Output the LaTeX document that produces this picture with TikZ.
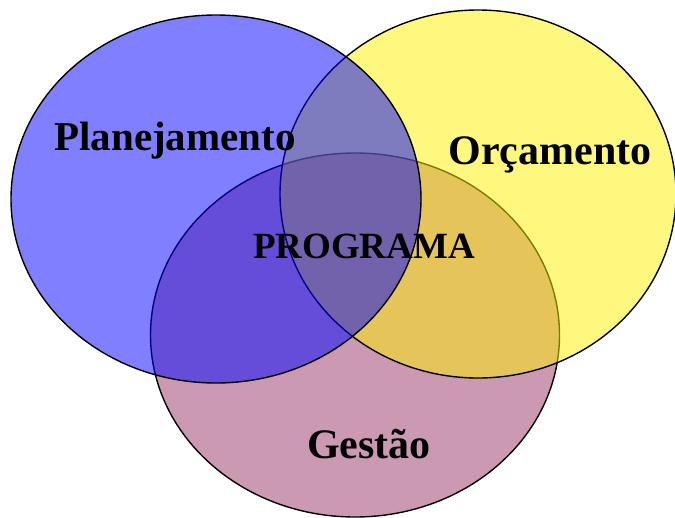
\documentclass[tikz,border=0pt]{standalone}
\usepackage{fontspec}
\setmainfont{Liberation Serif}
\definecolor{pinkfill}{RGB}{204,153,179}
\begin{document}
\begin{tikzpicture}[x=1pt,y=-1pt,
  venn/.style={draw=black,line width=1.4pt},
  lbl/.style={anchor=base,inner sep=0pt,font=\bfseries}]
\useasboundingbox (0,0) rectangle (675,517);
\fill[white] (0,0) rectangle (675,517);
\draw[venn,fill=pinkfill] (355,335) ellipse [x radius=204.5,y radius=182];
\draw[venn,fill=yellow,fill opacity=0.5] (478,194) ellipse [x radius=198,y radius=184];
\draw[venn,fill=blue,fill opacity=0.5] (216,199) ellipse [x radius=205,y radius=184];
\node[lbl,font=\bfseries\fontsize{41}{41}\selectfont] (plan) at (175,150) {Planejamento};
\node[lbl,font=\bfseries\fontsize{42}{42}\selectfont] (orc) at (550,164) {Orçamento};
\node[lbl,font=\bfseries\fontsize{37}{37}\selectfont] (prog) at (364,258) {PROGRAMA};
\node[lbl,font=\bfseries\fontsize{42}{42}\selectfont] (gest) at (369,458) {Gestão};
\end{tikzpicture}
\end{document}
